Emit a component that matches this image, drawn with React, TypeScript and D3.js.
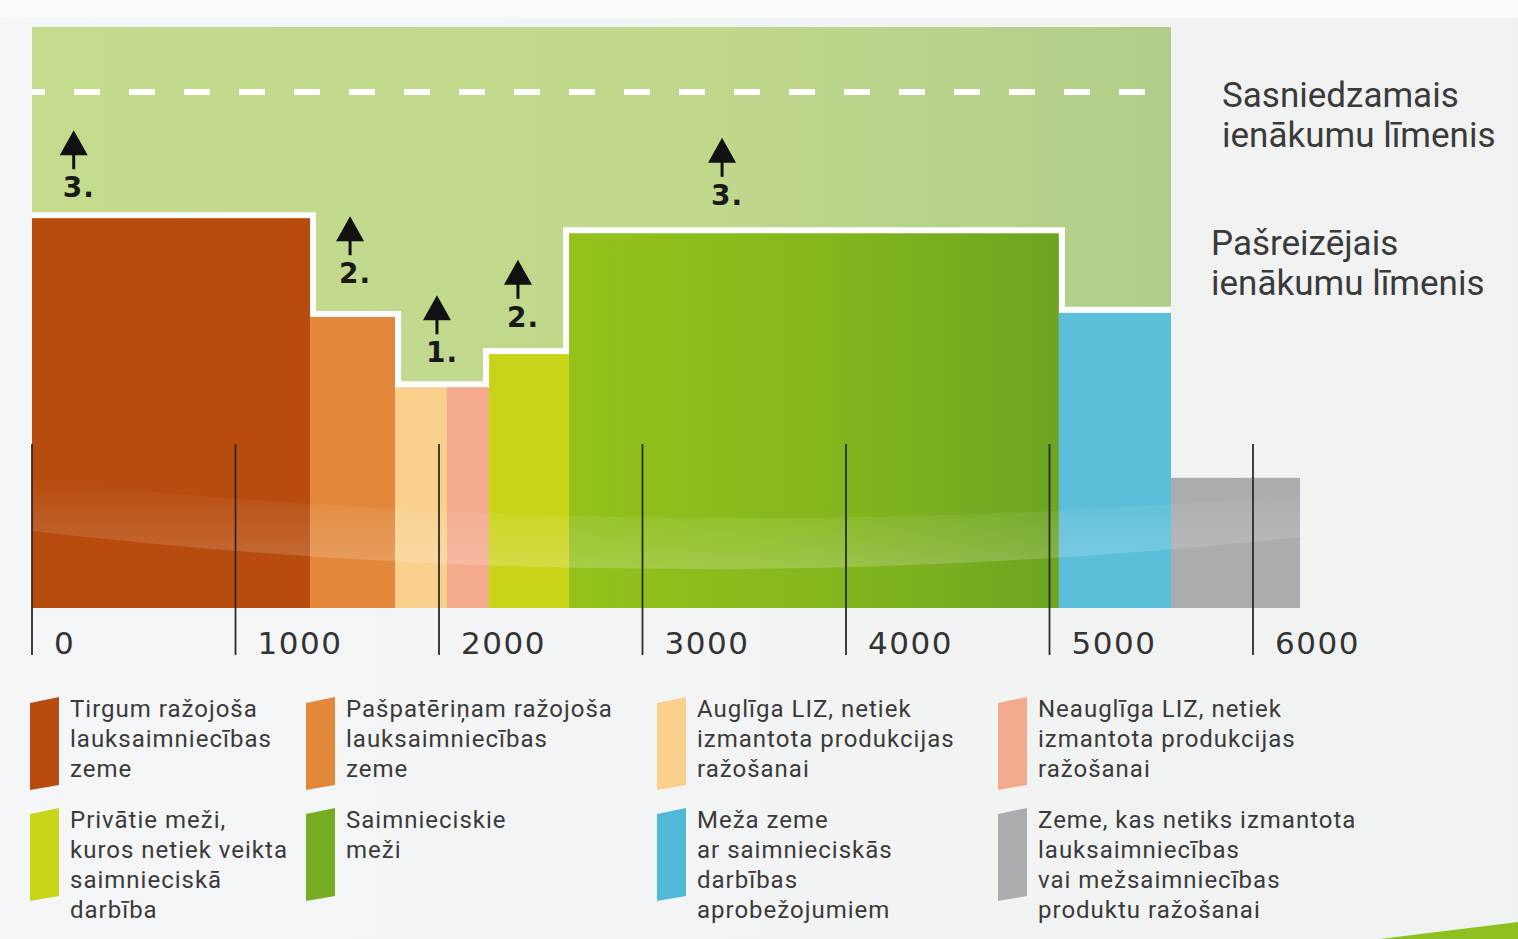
import React from "react";
import * as d3 from "d3";

// ---- data ----
const categories = [
  "Tirgum ražojoša lauksaimniecības zeme",
  "Pašpatēriņam ražojoša lauksaimniecības zeme",
  "Auglīga LIZ, netiek izmantota produkcijas ražošanai",
  "Neauglīga LIZ, netiek izmantota produkcijas ražošanai",
  "Privātie meži, kuros netiek veikta saimnieciskā darbība",
  "Saimnieciskie meži",
  "Meža zeme ar saimnieciskās darbības aprobežojumiem",
  "Zeme, kas netiks izmantota lauksaimniecības vai mežsaimniecības produktu ražošanai",
];
const legendLines = [
  ["Tirgum ražojoša", "lauksaimniecības", "zeme"],
  ["Pašpatēriņam ražojoša", "lauksaimniecības", "zeme"],
  ["Auglīga LIZ, netiek", "izmantota produkcijas", "ražošanai"],
  ["Neauglīga LIZ, netiek", "izmantota produkcijas", "ražošanai"],
  ["Privātie meži,", "kuros netiek veikta", "saimnieciskā", "darbība"],
  ["Saimnieciskie", "meži"],
  ["Meža zeme", "ar saimnieciskās", "darbības", "aprobežojumiem"],
  ["Zeme, kas netiks izmantota", "lauksaimniecības", "vai mežsaimniecības", "produktu ražošanai"],
];
const areaWidths = [1366, 418, 255, 207, 393, 2407, 551, 634];
const incomeLevels = [67.1, 50.1, 38.0, 38.0, 43.7, 64.5, 50.8, 22.4];
const barColors = ["#b84c0e", "#e3883b", "#f9d08c", "#f4aa8c", "#c9d418", "url(#greenGrad)", "#5cbfda", "#a9adb0"];
const swatchColors = ["#b84c0e", "#e3883b", "#f9d08c", "#f4aa8c", "#cad51a", "#76ad25", "#4fb9d7", "#a9adaf"];
const incomeBarCount = 7; // bars under the current income line
const targetLevel = 88.8;
const maxLevel = 100;
const xTicks = [0, 1000, 2000, 3000, 4000, 5000, 6000];
const targetLabel = ["Sasniedzamais", "ienākumu līmenis"];
const currentLabel = ["Pašreizējais", "ienākumu līmenis"];
const annotations = [
  { x: 205, y: 70.7, label: "3." },
  { x: 1563, y: 55.9, label: "2." },
  { x: 1990, y: 42.3, label: "1." },
  { x: 2388, y: 48.4, label: "2." },
  { x: 3391, y: 69.4, label: "3." },
];

const W = 1518;
const H = 939;
const FONT = "Roboto, 'Noto Sans', sans-serif";

export default function App() {
  const x = d3.scaleLinear().domain([0, 6000]).range([32, 1253]);
  const y = d3.scaleLinear().domain([0, maxLevel]).range([608, 27]);

  const starts = [0, ...Array.from(d3.cumsum(areaWidths))];
  const bars = areaWidths.map((w, i) => ({
    x0: starts[i],
    x1: starts[i] + w,
    v: incomeLevels[i],
    color: barColors[i],
  }));
  const incomeEnd = starts[incomeBarCount];

  const stepPts: [number, number][] = bars
    .slice(0, incomeBarCount)
    .map((b) => [b.x0, b.v] as [number, number]);
  stepPts.push([incomeEnd, incomeLevels[incomeBarCount - 1]]);
  const stepLine = d3
    .line<[number, number]>()
    .x((d) => x(d[0]))
    .y((d) => y(d[1]))
    .curve(d3.curveStepAfter);

  const xL = x(0);
  const xR = x(starts[starts.length - 1]);
  const xm = (xL + xR) / 2;
  const band = `M${xL},480 Q${xm},548 ${xR},495 L${xR},537 Q${xm},604 ${xL},531 Z`;

  const legendX = [70, 346, 697, 1038];
  const legendBase = [717, 828];

  return (
    <svg
      width={W}
      height={H}
      style={{ position: "absolute", left: 0, top: 0 }}
      fontFamily={FONT}
    >
      <defs>
        <linearGradient id="bgGrad" x1="0" x2="1" y1="0" y2="0">
          <stop offset="0" stopColor="#f5f6f7" />
          <stop offset="1" stopColor="#f0f2f2" />
        </linearGradient>
        <linearGradient id="lightGreen" x1="0" x2="1" y1="0" y2="0">
          <stop offset="0" stopColor="#c4dc8e" />
          <stop offset="0.6" stopColor="#bfd88c" />
          <stop offset="1" stopColor="#b2cd89" />
        </linearGradient>
        <linearGradient id="greenGrad" x1="0" x2="1" y1="0" y2="0">
          <stop offset="0" stopColor="#92c21a" />
          <stop offset="0.5" stopColor="#84b81d" />
          <stop offset="1" stopColor="#6da421" />
        </linearGradient>
        <linearGradient id="bandGrad" x1="0" x2="0" y1="0" y2="1">
          <stop offset="0" stopColor="#ffffff" stopOpacity="0" />
          <stop offset="0.75" stopColor="#ffffff" stopOpacity="0.14" />
          <stop offset="1" stopColor="#ffffff" stopOpacity="0.2" />
        </linearGradient>
        <clipPath id="barsClip">
          {bars.map((b, i) => (
            <rect key={i} x={x(b.x0)} y={y(b.v)} width={x(b.x1) - x(b.x0)} height={y(0) - y(b.v)} />
          ))}
        </clipPath>
      </defs>

      <rect x={0} y={0} width={W} height={H} fill="url(#bgGrad)" />
      <rect x={0} y={0} width={W} height={18} fill="#fbfbfb" />
      <path d={`M1380,${H} L${W},922 L${W},${H} Z`} fill="#8cc11f" />

      {/* achievable income area */}
      <rect
        x={x(0)}
        y={y(maxLevel)}
        width={x(incomeEnd) - x(0)}
        height={y(0) - y(maxLevel)}
        fill="url(#lightGreen)"
      />
      <line
        x1={x(0)}
        x2={x(incomeEnd)}
        y1={y(targetLevel)}
        y2={y(targetLevel)}
        stroke="#ffffff"
        strokeWidth={6}
        strokeDasharray="26 29"
        strokeDashoffset={13}
      />
      <path
        d={stepLine(stepPts) || ""}
        fill="none"
        stroke="#ffffff"
        strokeWidth={12}
        strokeLinejoin="miter"
      />

      {/* bars */}
      {bars.map((b, i) => (
        <rect
          key={categories[i]}
          x={x(b.x0)}
          y={y(b.v)}
          width={x(b.x1) - x(b.x0)}
          height={y(0) - y(b.v)}
          fill={b.color}
        />
      ))}
      <path d={band} fill="url(#bandGrad)" clipPath="url(#barsClip)" />

      {/* arrows */}
      {annotations.map((a, i) => {
        const cx = x(a.x);
        const b = y(a.y);
        return (
          <g key={i}>
            <path d={`M${cx},${b - 67} L${cx + 14},${b - 42} L${cx - 14},${b - 42} Z`} fill="#111" />
            <rect x={cx - 1.5} y={b - 44} width={3} height={16} fill="#111" />
            <text
              x={cx - 11}
              y={b}
              fontSize={28}
              fontWeight={900}
              letterSpacing={1}
              fill="#1a1a1a"
              fontFamily="'DejaVu Sans', sans-serif"
            >
              {a.label}
            </text>
          </g>
        );
      })}

      {/* axis ticks */}
      {xTicks.map((t) => (
        <g key={t}>
          <line x1={x(t)} x2={x(t)} y1={444} y2={655} stroke="#2b2b2b" strokeWidth={1.8} />
          <text
            x={x(t) + 22}
            y={654}
            fontSize={31}
            letterSpacing={1.5}
            fill="#333"
            fontFamily="'DejaVu Sans', sans-serif"
          >
            {t}
          </text>
        </g>
      ))}

      {/* right labels */}
      {targetLabel.map((s, i) => (
        <text key={s} x={1222} y={107 + i * 40} fontSize={35} fill="#3a3a3a">
          {s}
        </text>
      ))}
      {currentLabel.map((s, i) => (
        <text key={s + i} x={1211} y={255 + i * 40} fontSize={35} fill="#3a3a3a">
          {s}
        </text>
      ))}

      {/* legend */}
      {legendLines.map((lines, i) => {
        const tx = legendX[i % 4];
        const base = legendBase[Math.floor(i / 4)];
        const top = base - 20;
        const sx0 = tx - 40;
        const sx1 = tx - 11;
        return (
          <g key={i}>
            <path
              d={`M${sx0},${top + 6} L${sx1},${top} L${sx1},${top + 88} L${sx0},${top + 93} Z`}
              fill={swatchColors[i]}
            />
            {lines.map((s, j) => (
              <text key={j} x={tx} y={base + j * 30} fontSize={24} letterSpacing={1} fill="#3a3a3a">
                {s}
              </text>
            ))}
          </g>
        );
      })}
    </svg>
  );
}
